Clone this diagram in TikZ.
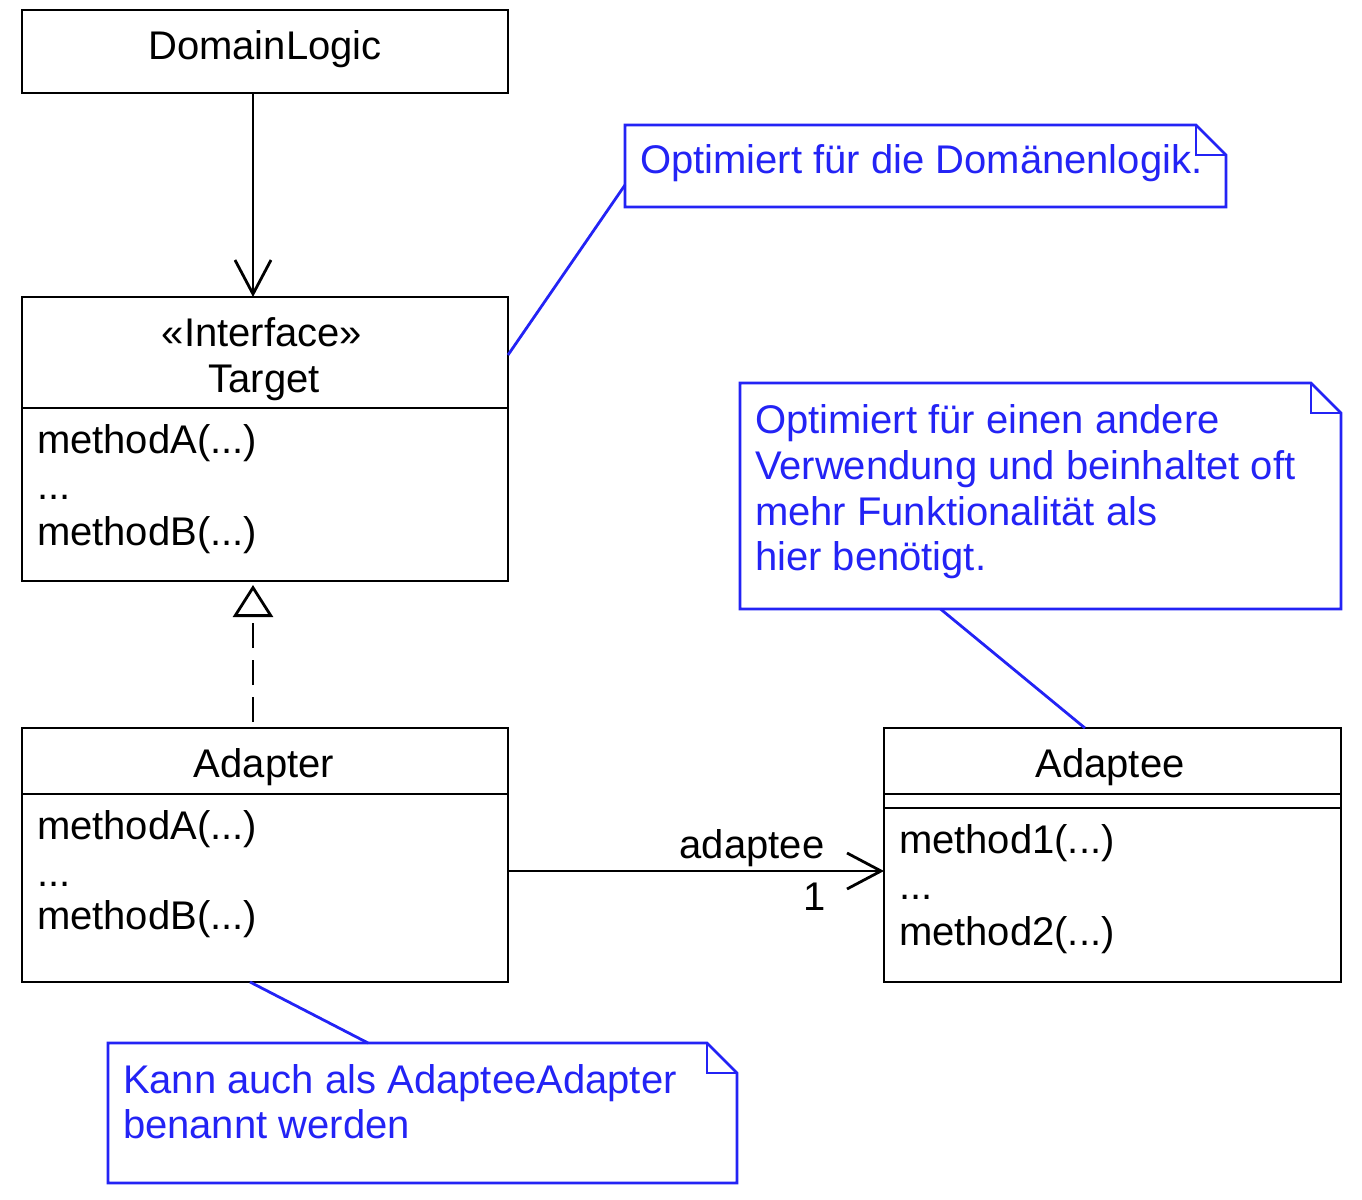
\documentclass[tikz,border=0pt]{standalone}
\usepackage{fontspec}
\setmainfont{Liberation Sans}
\usepackage{tikz}
\usetikzlibrary{arrows.meta}
\definecolor{notecol}{RGB}{35,35,245}

\begin{document}
\begin{tikzpicture}[x=0.25pt, y=-0.25pt,
  every node/.style={font=\fontsize{10}{11.5}\selectfont, inner sep=0pt, outer sep=0pt},
  cls/.style={draw=black, line width=0.7pt, anchor=north west},
  note/.style={anchor=north west},
  notel/.style={draw=notecol, line width=0.7pt},
  txt/.style={anchor=base west},
  ctxt/.style={anchor=base},
  dep/.style={line width=0.7pt, -{Straight Barb[length=8.5pt, width=9pt, line width=0.7pt]}},
  real/.style={line width=0.7pt, dash pattern=on 6.25pt off 3pt, -{Triangle[open, length=8pt, width=10pt, line width=0.7pt, fill=white]}},
  link/.style={draw=notecol, line width=0.7pt}]
\useasboundingbox (0,0) rectangle (1362,1200);

\node[cls, minimum width=121.5pt, minimum height=20.75pt](DL) at (22,10) {};
\node[ctxt] at (265,59) {DomainLogic};

\node[cls, minimum width=121.5pt, minimum height=71pt](T) at (22,297) {};
\draw[line width=0.7pt] (22,408) -- (508,408);
\node[ctxt] at (262,346) {«Interface»};
\node[ctxt] at (264,392) {Target};
\node[txt] at (37,453) {methodA(...)};
\node[txt] at (37,499) {...};
\node[txt] at (37,545) {methodB(...)};

\node[cls, minimum width=121.5pt, minimum height=63.5pt](A) at (22,728) {};
\draw[line width=0.7pt] (22,794) -- (508,794);
\node[ctxt] at (264,777) {Adapter};
\node[txt] at (37,839) {methodA(...)};
\node[txt] at (37,886) {...};
\node[txt] at (37,929) {methodB(...)};

\node[cls, minimum width=114.25pt, minimum height=63.5pt](AE) at (884,728) {};
\draw[line width=0.7pt] (884,794) -- (1341,794);
\draw[line width=0.7pt] (884,808) -- (1341,808);
\node[ctxt] at (1110,777) {Adaptee};
\node[txt] at (899,853) {method1(...)};
\node[txt] at (899,899) {...};
\node[txt] at (899,945) {method2(...)};

\node[note, minimum width=150.25pt, minimum height=20.5pt](N1) at (625,125) {};
\draw[notel] (N1.north west) -- ([xshift=-7.5pt]N1.north east) -- ([yshift=-7.5pt]N1.north east) -- (N1.south east) -- (N1.south west) -- cycle;
\draw[notel] ([xshift=-7.5pt]N1.north east) |- ([yshift=-7.5pt]N1.north east);
\node[txt, text=notecol] at (640,173) {Optimiert für die Domänenlogik.};

\node[note, minimum width=150.25pt, minimum height=56.5pt](N2) at (740,383) {};
\draw[notel] (N2.north west) -- ([xshift=-7.5pt]N2.north east) -- ([yshift=-7.5pt]N2.north east) -- (N2.south east) -- (N2.south west) -- cycle;
\draw[notel] ([xshift=-7.5pt]N2.north east) |- ([yshift=-7.5pt]N2.north east);
\node[txt, text=notecol] at (755,433) {Optimiert für einen andere};
\node[txt, text=notecol] at (755,479) {Verwendung und beinhaltet oft};
\node[txt, text=notecol] at (755,525) {mehr Funktionalität als};
\node[txt, text=notecol] at (755,570) {hier benötigt.};

\node[note, minimum width=157.25pt, minimum height=35pt](N3) at (108,1043) {};
\draw[notel] (N3.north west) -- ([xshift=-7.5pt]N3.north east) -- ([yshift=-7.5pt]N3.north east) -- (N3.south east) -- (N3.south west) -- cycle;
\draw[notel] ([xshift=-7.5pt]N3.north east) |- ([yshift=-7.5pt]N3.north east);
\node[txt, text=notecol] at (123,1093) {Kann auch als AdapteeAdapter};
\node[txt, text=notecol] at (123,1138) {benannt werden};

\path[dep] ([xshift=-3pt]DL.south) edge ([xshift=-3pt]T.north);
\path[real] ([xshift=-3pt,yshift=1.5pt]A.north) edge ([xshift=-3pt,yshift=-1pt]T.south);
\path[dep] ([yshift=-4pt]A.east) edge node[pos=0.649, above=1pt]{adaptee} node[pos=0.816, below=3pt]{1} ([yshift=-4pt]AE.west);

\path[link] ([yshift=21pt]T.east) edge ([yshift=-4.75pt]N1.west);
\path[link] ([xshift=-25pt]N2.south) edge ([xshift=-6.9pt]AE.north);
\path[link] ([xshift=-3.75pt]A.south) edge ([xshift=-13.6pt]N3.north);
\end{tikzpicture}
\end{document}
